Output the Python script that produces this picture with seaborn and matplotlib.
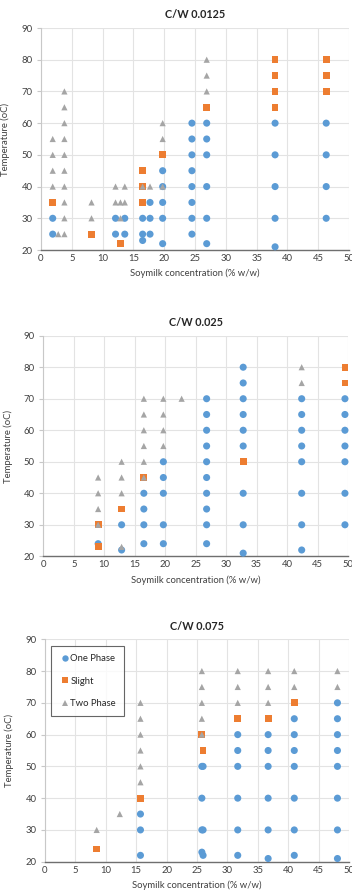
import matplotlib
matplotlib.use("Agg")
import matplotlib.pyplot as plt
import seaborn as sns
import pandas as pd

# ---------------- data ----------------
titles = ["C/W 0.0125", "C/W 0.025", "C/W 0.075"]
phases = ["One Phase", "Slight", "Two Phase"]
x_ticks = [0, 5, 10, 15, 20, 25, 30, 35, 40, 45, 50]
y_ticks = [20, 30, 40, 50, 60, 70, 80, 90]
x_label = "Soymilk concentration (% w/w)"
y_label = "Temperature (oC)"

# Panel 1 (C/W 0.0125)
p1_one_x = [1.9, 1.9, 12.1, 12.1, 13.6, 13.6, 16.5, 16.5, 16.5, 17.7, 17.7, 17.7,
            19.75, 19.75, 19.75, 19.75, 19.75,
            24.5, 24.5, 24.5, 24.5, 24.5, 24.5, 24.5, 24.5,
            26.9, 26.9, 26.9, 26.9, 26.9, 26.9,
            38.0, 38.0, 38.0, 38.0, 38.0, 46.3, 46.3, 46.3, 46.3]
p1_one_t = [25, 30, 25, 30, 25, 30, 23, 25, 30, 25, 30, 35,
            22, 30, 35, 40, 45,
            25, 30, 35, 40, 45, 50, 55, 60,
            22, 30, 40, 50, 55, 60,
            21, 30, 40, 50, 60, 30, 40, 50, 60]
p1_sl_x = [1.9, 8.2, 12.9, 16.5, 16.5, 16.5, 19.75, 26.9, 38.0, 38.0, 38.0, 38.0, 46.3, 46.3, 46.3]
p1_sl_t = [35, 25, 22, 35, 40, 45, 50, 65, 65, 70, 75, 80, 70, 75, 80]
p1_two_x = [1.9, 1.9, 1.9, 1.9, 2.8,
            3.8, 3.8, 3.8, 3.8, 3.8, 3.8, 3.8, 3.8, 3.8, 3.8,
            8.2, 8.2, 12.1, 12.1, 12.9, 12.9, 13.6, 13.6, 16.5, 17.7,
            19.75, 19.75, 19.75, 26.9, 26.9, 26.9]
p1_two_t = [40, 45, 50, 55, 25,
            25, 30, 35, 40, 45, 50, 55, 60, 65, 70,
            30, 35, 35, 40, 30, 35, 35, 40, 40, 40,
            40, 55, 60, 70, 75, 80]

# Panel 2 (C/W 0.025)
p2_one_x = [9.0, 12.85, 12.85, 16.5, 16.5, 16.5, 16.5,
            19.7, 19.7, 19.7, 19.7, 19.7,
            26.8, 26.8, 26.8, 26.8, 26.8, 26.8, 26.8, 26.8, 26.8, 26.8,
            32.8, 32.8, 32.8, 32.8, 32.8, 32.8, 32.8, 32.8, 32.8,
            42.4, 42.4, 42.4, 42.4, 42.4, 42.4, 42.4, 42.4,
            49.5, 49.5, 49.5, 49.5, 49.5, 49.5, 49.5]
p2_one_t = [24, 22, 30, 24, 30, 35, 40,
            24, 30, 40, 45, 50,
            24, 30, 35, 40, 45, 50, 55, 60, 65, 70,
            21, 30, 40, 55, 60, 65, 70, 75, 80,
            22, 30, 40, 50, 55, 60, 65, 70,
            30, 40, 50, 55, 60, 65, 70]
p2_sl_x = [9.0, 9.0, 12.85, 16.5, 32.8, 49.5, 49.5]
p2_sl_t = [23, 30, 35, 45, 50, 75, 80]
p2_two_x = [9.0, 9.0, 9.0, 9.0, 12.85, 12.85, 12.85, 12.85,
            16.5, 16.5, 16.5, 16.5, 16.5, 16.5,
            19.7, 19.7, 19.7, 19.7, 22.7, 42.4, 42.4]
p2_two_t = [30, 35, 40, 45, 23, 40, 45, 50,
            45, 50, 55, 60, 65, 70,
            55, 60, 65, 70, 70, 75, 80]

# Panel 3 (C/W 0.075)
p3_one_x = [15.7, 15.7, 15.7,
            25.8, 26.0, 25.8, 26.0, 25.8, 25.8, 26.0,
            31.7, 31.7, 31.7, 31.7, 31.7, 31.7,
            36.7, 36.7, 36.7, 36.7, 36.7, 36.7,
            41.0, 41.0, 41.0, 41.0, 41.0, 41.0, 41.0,
            48.1, 48.1, 48.1, 48.1, 48.1, 48.1, 48.1, 48.1]
p3_one_t = [22, 30, 35,
            23, 22, 30, 30, 40, 50, 50,
            22, 30, 40, 50, 55, 60,
            21, 30, 40, 50, 55, 60,
            22, 30, 40, 50, 55, 60, 65,
            21, 30, 40, 50, 55, 60, 65, 70]
p3_sl_x = [8.5, 15.7, 26.0, 25.8, 31.7, 36.7, 41.0]
p3_sl_t = [24, 40, 55, 60, 65, 65, 70]
p3_two_x = [8.5, 12.3, 15.7, 15.7, 15.7, 15.7, 15.7, 15.7,
            25.8, 25.8, 25.8, 25.8, 25.8,
            31.7, 31.7, 31.7, 36.7, 36.7, 36.7, 41.0, 41.0, 48.1, 48.1]
p3_two_t = [30, 35, 45, 50, 55, 60, 65, 70,
            60, 65, 70, 75, 80,
            70, 75, 80, 70, 75, 80, 75, 80, 75, 80]

panels = [
    (p1_one_x, p1_one_t, p1_sl_x, p1_sl_t, p1_two_x, p1_two_t),
    (p2_one_x, p2_one_t, p2_sl_x, p2_sl_t, p2_two_x, p2_two_t),
    (p3_one_x, p3_one_t, p3_sl_x, p3_sl_t, p3_two_x, p3_two_t),
]

# ---------------- style ----------------
sns.set_theme(style="white")
plt.rcParams["font.family"] = ["Lato", "DejaVu Sans"]

palette = {"One Phase": "#5B9BD5", "Slight": "#ED7D31", "Two Phase": "#A5A5A5"}
markers = {"One Phase": "o", "Slight": "s", "Two Phase": "^"}
sizes_map = {"One Phase": 26, "Slight": 24, "Two Phase": 20}

W, H = 352, 896
fig = plt.figure(figsize=(W / 100, H / 100), dpi=100)

# axes boxes in pixels: left, right, top, bottom
boxes = [(41, 349, 28, 250), (43.3, 348, 335.7, 556.3), (45, 349, 639.3, 861.7)]

for i, (box, data, title) in enumerate(zip(boxes, panels, titles)):
    l, r, t, b = box
    ax = fig.add_axes([l / W, (H - b) / H, (r - l) / W, (b - t) / H])
    ox, ot, sx, st, tx, tt = data
    df = pd.concat([
        pd.DataFrame({"x": ox, "T": ot, "phase": "One Phase"}),
        pd.DataFrame({"x": sx, "T": st, "phase": "Slight"}),
        pd.DataFrame({"x": tx, "T": tt, "phase": "Two Phase"}),
    ], ignore_index=True)
    for ph in phases:
        sub = df[df["phase"] == ph]
        sns.scatterplot(data=sub, x="x", y="T", hue="phase", style="phase",
                        palette=palette, markers=markers, hue_order=[ph], style_order=[ph],
                        s=sizes_map[ph], linewidth=0, ax=ax, legend=(i == 2), zorder=3,
                        clip_on=False)
    ax.set_xlim(0, 50)
    ax.set_ylim(20, 90)
    ax.set_xticks(x_ticks)
    ax.set_yticks(y_ticks)
    ax.grid(True, color="#e3e3e3", linewidth=0.8, zorder=0)
    ax.set_axisbelow(True)
    for s in ["top", "right"]:
        ax.spines[s].set_visible(False)
    ax.spines["left"].set_color("#c8c8c8")
    ax.spines["left"].set_linewidth(0.8)
    ax.spines["bottom"].set_color("#6f6f6f")
    ax.spines["bottom"].set_linewidth(1.0)
    ax.tick_params(axis="both", labelsize=6.8, colors="#404040", pad=3)
    ax.tick_params(axis="y", length=3, color="#c8c8c8", width=0.8, left=True)
    ax.tick_params(axis="x", length=0)
    ax.set_xlabel(x_label, fontsize=6.8, color="#404040", labelpad=4)
    ax.set_ylabel(y_label, fontsize=6.8, color="#404040", labelpad=8)
    ax.set_title(title, fontsize=7.8, fontweight="bold", color="#262626", pad=7)
    if i == 2:
        handles, labels = ax.get_legend_handles_labels()
        leg = ax.legend(handles, labels, loc="upper left", bbox_to_anchor=(0.02, 0.97),
                        fontsize=6.8, frameon=True, fancybox=False, edgecolor="#404040",
                        labelspacing=1.45, handletextpad=0.0, borderpad=0.85,
                        handlelength=1.2, markerscale=0.9, borderaxespad=0)
        leg.get_frame().set_linewidth(0.8)
        for txt in leg.get_texts():
            txt.set_color("#262626")

fig.savefig("out.png", dpi=100)
